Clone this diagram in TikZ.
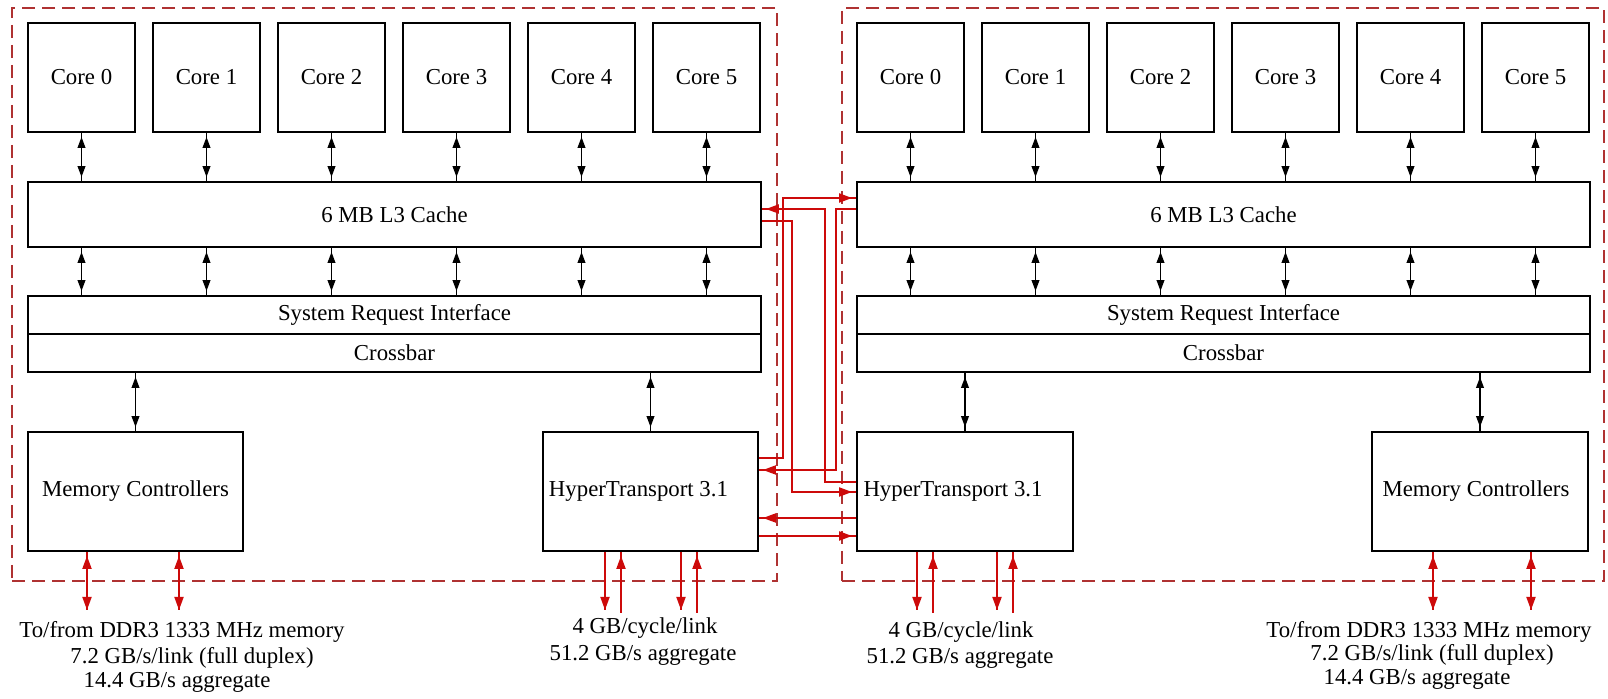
\documentclass[tikz,border=0pt]{standalone}
\usepackage{fontspec}
\setmainfont{Liberation Serif}
\usetikzlibrary{arrows.meta}
\definecolor{linkred}{RGB}{205,10,10}
\definecolor{dashred}{RGB}{175,50,50}
\newcommand{\mfs}{\fontsize{11.4}{13.5}\selectfont}
\tikzset{
  rect/.style n args={4}{minimum width={((#3)-(#1))*0.5pt}, minimum height={((#4)-(#2))*0.5pt},
    at={({((#1)+(#3))/2},{((#2)+(#4))/2})}},
  box/.style={draw, line width=0.9pt, inner sep=0pt, font=\mfs},
  dashbox/.style={draw=dashred, line width=0.8pt, dash pattern=on 6.5pt off 3.5pt, inner sep=0pt},
  lbl/.style={inner sep=0pt, font=\mfs},
  barrow/.style={line width=0.9pt,
    postaction={draw, {Triangle[length=5.5pt,width=3.8pt]}-{Triangle[length=5.5pt,width=3.8pt]}, shorten <=2pt, shorten >=2pt}},
  redarr/.style={draw=linkred, line width=0.9pt,
    postaction={draw=linkred, -{Triangle[length=6.5pt,width=4.5pt]}, shorten >=2pt}},
  redend/.style={draw=linkred, line width=0.9pt,
    postaction={draw=linkred, -{Triangle[length=6.5pt,width=4.5pt]}}},
  memarr/.style={draw=linkred, line width=0.9pt,
    postaction={draw=linkred, {Triangle[length=6.5pt,width=4.5pt]}-{Triangle[length=6.5pt,width=4.5pt]}, shorten <=2pt}},
}
\begin{document}
\begin{tikzpicture}[x=0.5pt,y=-0.5pt]
\useasboundingbox (0,0) rectangle (1608,699);
\fill[white] (0,0) rectangle (1608,699);

% chip frames
\node[dashbox, rect={12}{8}{777}{581}] (chipL) {};
\node[dashbox, rect={842}{8}{1604}{581}] (chipR) {};

\foreach \side/\off in {L/0,R/829} {
  \foreach \i in {0,...,5} {
    \node[box, rect={28+\off+125*\i}{23}{135+\off+125*\i}{132}] (\side c\i) {Core \i};
  }
  \node[box, rect={28+\off}{182}{761+\off}{247}] (\side L3) {6 MB L3 Cache};
  \node[box, rect={28+\off}{296}{761+\off}{334}] (\side SRI) {System Request Interface};
  \node[box, rect={28+\off}{334}{761+\off}{372}] (\side XB) {Crossbar};
  \foreach \i in {0,...,5} {
    \draw[barrow] (\side c\i.south) -- (\side c\i.south |- \side L3.north);
    \draw[barrow] (\side c\i.south |- \side L3.south) -- (\side c\i.south |- \side SRI.north);
  }
}

\node[box, rect={28}{432}{243}{551}] (LMC) {Memory Controllers};
\node[box, rect={543}{432}{758}{551}] (LHT) {HyperTransport 3.1\hspace*{12pt}};
\node[box, rect={857}{432}{1073}{551}] (RHT) {HyperTransport 3.1\hspace*{12pt}};
\node[box, rect={1372}{432}{1588}{551}] (RMC) {Memory Controllers\hspace*{4pt}};

\draw[barrow] (LMC.north |- LXB.south) -- (LMC.north);
\draw[barrow] (LHT.north |- LXB.south) -- (LHT.north);
\draw[barrow] (RHT.north |- RXB.south) -- (RHT.north);
\draw[barrow] (RMC.north |- RXB.south) -- (RMC.north);

% HyperTransport links between the chips
\draw[redarr] (LHT.east |- 0,458) -- (783,458) |- (RL3.west |- 0,198);
\draw[redarr] (RHT.west |- 0,482) -- (825,482) |- (LL3.east |- 0,209);
\draw[redarr] (LL3.east |- 0,221) -- (792,221) |- (RHT.west |- 0,492);
\draw[redarr] (RL3.west |- 0,209) -- (836,209) |- (LHT.east |- 0,470);
\draw[redarr] (RHT.west |- 0,518) -- (LHT.east |- 0,518);
\draw[redarr] (LHT.east |- 0,536) -- (RHT.west |- 0,536);

% memory links
\coordinate (mL1) at (87,610);
\coordinate (mL2) at (179,610);
\coordinate (mR1) at (1433,610);
\coordinate (mR2) at (1531,610);
\draw[memarr] (LMC.south -| mL1) -- (mL1);
\draw[memarr] (LMC.south -| mL2) -- (mL2);
\draw[memarr] (RMC.south -| mR1) -- (mR1);
\draw[memarr] (RMC.south -| mR2) -- (mR2);

% external HT links
\coordinate (hL1) at (605,610);
\coordinate (hL2) at (621,613);
\coordinate (hL3) at (681,610);
\coordinate (hL4) at (697,613);
\coordinate (hR1) at (917,610);
\coordinate (hR2) at (933,613);
\coordinate (hR3) at (997,610);
\coordinate (hR4) at (1013,613);
\draw[redend] (LHT.south -| hL1) -- (hL1);
\draw[redarr] (hL2) -- (LHT.south -| hL2);
\draw[redend] (LHT.south -| hL3) -- (hL3);
\draw[redarr] (hL4) -- (LHT.south -| hL4);
\draw[redend] (RHT.south -| hR1) -- (hR1);
\draw[redarr] (hR2) -- (RHT.south -| hR2);
\draw[redend] (RHT.south -| hR3) -- (hR3);
\draw[redarr] (hR4) -- (RHT.south -| hR4);

% labels
\node[lbl] (tL1) at (182,632) {To/from DDR3 1333 MHz memory};
\node[lbl] (tL2) at (192,658) {7.2 GB/s/link (full duplex)};
\node[lbl] (tL3) at (177,682) {14.4 GB/s aggregate};
\node[lbl] (tR1) at (1429,632) {To/from DDR3 1333 MHz memory};
\node[lbl] (tR2) at (1432,655) {7.2 GB/s/link (full duplex)};
\node[lbl] (tR3) at (1417,679) {14.4 GB/s aggregate};
\node[lbl] (hLt1) at (645,628) {4 GB/cycle/link};
\node[lbl] (hLt2) at (643,655) {51.2 GB/s aggregate};
\node[lbl] (hRt1) at (961,632) {4 GB/cycle/link};
\node[lbl] (hRt2) at (960,658) {51.2 GB/s aggregate};
\end{tikzpicture}
\end{document}
